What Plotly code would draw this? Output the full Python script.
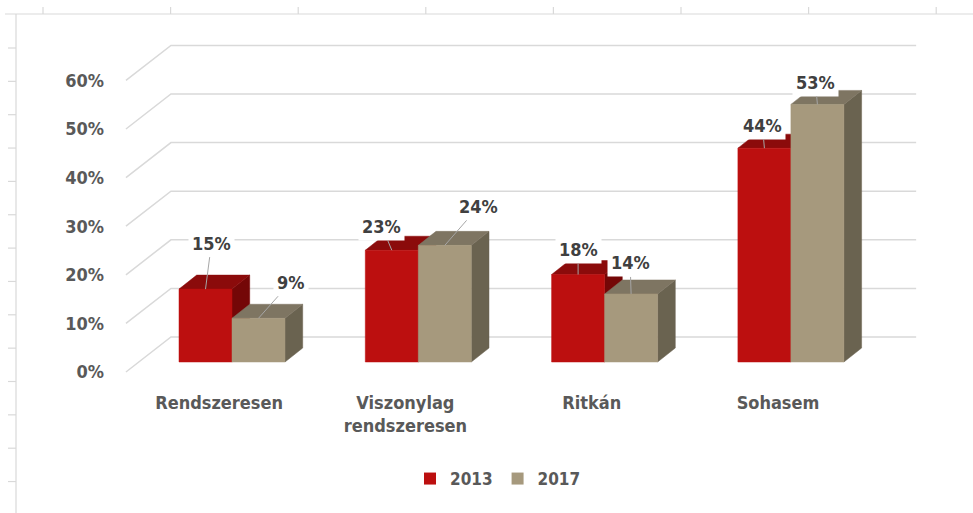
import plotly.graph_objects as go

# ---- data ----
categories = ["Rendszeresen", "Viszonylag<br>rendszeresen", "Ritkán", "Sohasem"]
series_names = ["2013", "2017"]
values_2013 = [15, 23, 18, 44]
values_2017 = [9, 24, 14, 53]
y_ticks = [0, 10, 20, 30, 40, 50, 60]

# ---- page geometry ----
W, H = 973, 513
ML, MR, MT, MB = 110, 43, 30, 123
PW, PH = W - ML - MR, H - MT - MB
PX_PER_CAT = 186.3          # pixels per category step
PX_PER_PCT = 4.86           # pixels per percentage point
CAT0_PX = 232               # pixel x of first category centre
ZERO_PX = 362               # pixel y of 0 % on the bar plane

x0 = -(CAT0_PX - ML) / PX_PER_CAT
x1 = x0 + PW / PX_PER_CAT
y1 = (ZERO_PX - MT) / PX_PER_PCT
y0 = y1 - PH / PX_PER_PCT


def dxu(px):
    return px / PX_PER_CAT


def dyu(px):
    return -px / PX_PER_PCT


# oblique depth offsets (pixels, screen direction)
BAR_DEPTH = (17.7, -14.0)
FRONT_OFF = (-12.9, 10.0)
BACK_OFF = (32.1, -25.0)
BAR_W = dxu(53)

colors = {
    "2013": {"front": "#BC0F0F", "top": "#8B0B0B", "side": "#740707"},
    "2017": {"front": "#A6997D", "top": "#7E7562", "side": "#6A6350"},
}
GRID = "#D9D9D9"
FONT = "DejaVu Sans Condensed, DejaVu Sans, sans-serif"

fig = go.Figure()

# ---- walls: side-wall diagonals and back-wall grid lines ----
fx, fy = dxu(FRONT_OFF[0]), dyu(FRONT_OFF[1])
bx, by = dxu(BACK_OFF[0]), dyu(BACK_OFF[1])
left, right = -0.5, len(categories) - 0.5
for g in y_ticks:
    fig.add_trace(go.Scatter(
        x=[left + fx, left + bx, right + bx],
        y=[g + fy, g + by, g + by],
        mode="lines", line=dict(color=GRID, width=1.5),
        hoverinfo="skip", showlegend=False))


# ---- 3D bars ----
def add_bar(xl, v, c):
    xr = xl + BAR_W
    ddx, ddy = dxu(BAR_DEPTH[0]), dyu(BAR_DEPTH[1])
    faces = [
        ("side", [xr, xr + ddx, xr + ddx, xr, xr], [0, ddy, v + ddy, v, 0]),
        ("top", [xl, xr, xr + ddx, xl + ddx, xl], [v, v, v + ddy, v + ddy, v]),
        ("front", [xl, xr, xr, xl, xl], [0, 0, v, v, 0]),
    ]
    for face, xs, ys in faces:
        fig.add_trace(go.Scatter(
            x=xs, y=ys, mode="lines", fill="toself",
            fillcolor=c[face], line=dict(color=c[face], width=0.5),
            hoverinfo="skip", showlegend=False))


label_offsets = {
    "2013": [(6, -46), (-10, -24), (0, -25), (-2, -23)],
    "2017": [(32, -36), (34, -39), (-1, -31), (-2, -22)],
}

annotations = []
for i in range(len(categories)):
    for name, vals, side in (("2013", values_2013, -1), ("2017", values_2017, 0)):
        xl = i + (BAR_W * side if side else 0)
        add_bar(xl, vals[i], colors[name])
for i in range(len(categories)):
    for name, vals, side in (("2013", values_2013, -1), ("2017", values_2017, 0)):
        xl = i + (BAR_W * side if side else 0)
        ox, oy = label_offsets[name][i]
        annotations.append(dict(
            x=xl + BAR_W / 2, y=vals[i], xref="x", yref="y",
            text=f"{vals[i]}%", showarrow=True, arrowhead=0,
            arrowcolor="#A6A6A6", arrowwidth=1, ax=ox, ay=oy,
            bgcolor="white", borderpad=3,
            font=dict(family=FONT, size=18, color="#404040", weight="bold")))

# legend entries
for name in series_names:
    fig.add_trace(go.Scatter(
        x=[None], y=[None], mode="markers", name=name,
        marker=dict(symbol="square", size=12, color=colors[name]["front"])))

# helper trace to anchor the tick-label axis on the front plane
fig.add_trace(go.Scatter(x=[None], y=[None], yaxis="y2", showlegend=False,
                         hoverinfo="skip"))


# ---- outer ruler frame ----
def px(xp):
    return (xp - ML) / PW


def py(yp):
    return (MT + PH - yp) / PH


shapes = []
frame = dict(type="line", xref="paper", yref="paper",
             line=dict(color="#D9D9D9", width=1.2))
shapes.append(dict(frame, x0=px(5), x1=px(973), y0=py(14), y1=py(14)))
shapes.append(dict(frame, x0=px(16), x1=px(16), y0=py(14), y1=py(513)))
for k in range(8):
    xt = 43 + 127.6 * k
    shapes.append(dict(frame, x0=px(xt), x1=px(xt), y0=py(7), y1=py(14)))
for k in range(14):
    yt = 48 + 33.35 * k
    shapes.append(dict(frame, x0=px(8), x1=px(16), y0=py(yt), y1=py(yt)))

fig.update_layout(
    width=W, height=H,
    margin=dict(l=ML, r=MR, t=MT, b=MB, pad=0),
    paper_bgcolor="white", plot_bgcolor="white",
    font=dict(family=FONT, color="#595959"),
    xaxis=dict(range=[x0, x1], showgrid=False, zeroline=False,
               showline=False, ticks="",
               tickvals=[i + fx for i in range(len(categories))],
               ticktext=categories,
               tickfont=dict(family=FONT, size=18, color="#595959",
                             weight="bold")),
    yaxis=dict(range=[y0, y1], showgrid=False, zeroline=False,
               showline=False, showticklabels=False, ticks=""),
    yaxis2=dict(range=[y0 - fy, y1 - fy], overlaying="y", side="left",
                showgrid=False, zeroline=False, showline=False, ticks="",
                ticklabelstandoff=5,
                tickvals=y_ticks, ticktext=[f"{t}%" for t in y_ticks],
                tickfont=dict(family=FONT, size=18, color="#595959",
                              weight="bold")),
    legend=dict(orientation="h", x=px(498), xanchor="center",
                y=py(479), yanchor="middle",
                font=dict(family=FONT, size=17, color="#595959",
                          weight="bold"),
                itemwidth=30, tracegroupgap=0),
    annotations=annotations,
    shapes=shapes,
)

fig.write_html("out.html")
